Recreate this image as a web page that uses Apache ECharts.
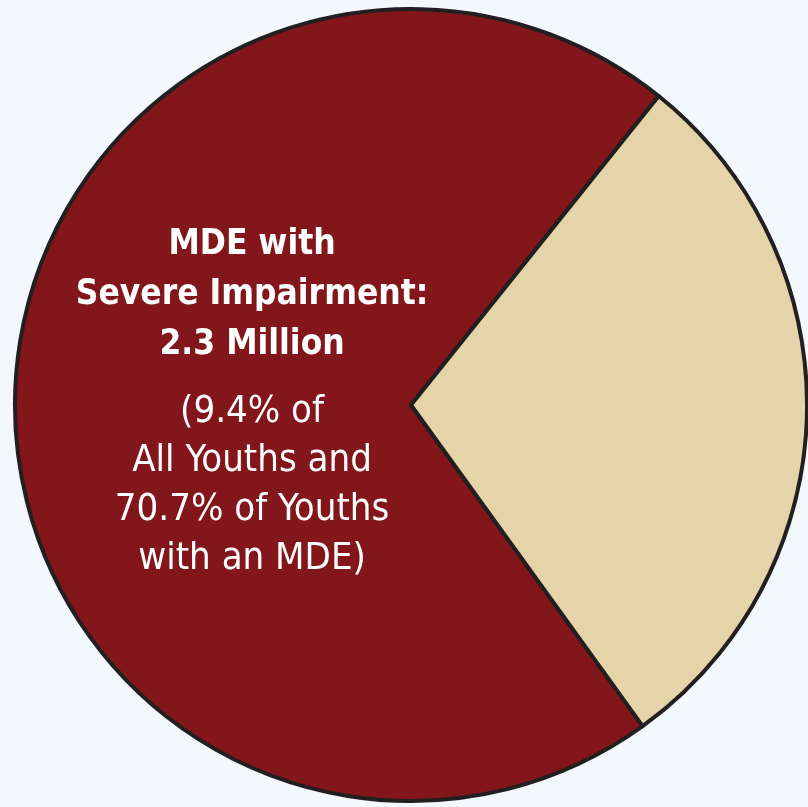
<!DOCTYPE html>
<html>
<head>
<meta charset="utf-8">
<style>
  html, body { margin: 0; padding: 0; background: #f3f8fd; }
  #chart { width: 808px; height: 807px; }
</style>
<script src="https://cdn.jsdelivr.net/npm/echarts@6/dist/echarts.min.js"></script>
</head>
<body>
<div id="chart"></div>
<script>
// slice names and shares of youths with an MDE (%)
var categories = ['MDE with Severe Impairment', 'MDE without Severe Impairment'];
var shares = [70.7, 29.3];
var colors = ['#82161a', '#e5d4a9'];

// text shown on the big slice
var titleLines = ['MDE with', 'Severe Impairment:', '2.3 Million'];
var noteLines = ['(9.4% of', 'All Youths and', '70.7% of Youths', 'with an MDE)'];

var font = '"Liberation Sans Narrow", "DejaVu Sans Condensed", sans-serif';

var labelText = titleLines.map(function (t) { return '{b|' + t + '}'; }).join('\n')
  + '\n{s| }\n'
  + noteLines.map(function (t) { return '{n|' + t + '}'; }).join('\n');

var chart = echarts.init(document.getElementById('chart'));
chart.setOption({
  backgroundColor: '#f3f8fd',
  animation: false,
  series: [{
    type: 'pie',
    center: [411, 405],
    radius: [0, 396],
    startAngle: 305.8,
    clockwise: true,
    silent: true,
    itemStyle: { borderColor: '#231f20', borderWidth: 4 },
    labelLine: { show: false },
    data: categories.map(function (c, i) {
      return {
        name: c,
        value: shares[i],
        itemStyle: { color: colors[i] },
        label: i === 0 ? {
          show: true,
          position: 'inside',
          offset: [42, 2],
          formatter: labelText,
          rich: {
            b: { color: '#fff', fontFamily: font, fontWeight: 'bold', fontSize: 35, lineHeight: 50, align: 'center' },
            n: { color: '#fff', fontFamily: font, fontSize: 38, lineHeight: 49, align: 'center' },
            s: { fontSize: 8, lineHeight: 17 }
          }
        } : { show: false }
      };
    })
  }]
});
</script>
</body>
</html>
